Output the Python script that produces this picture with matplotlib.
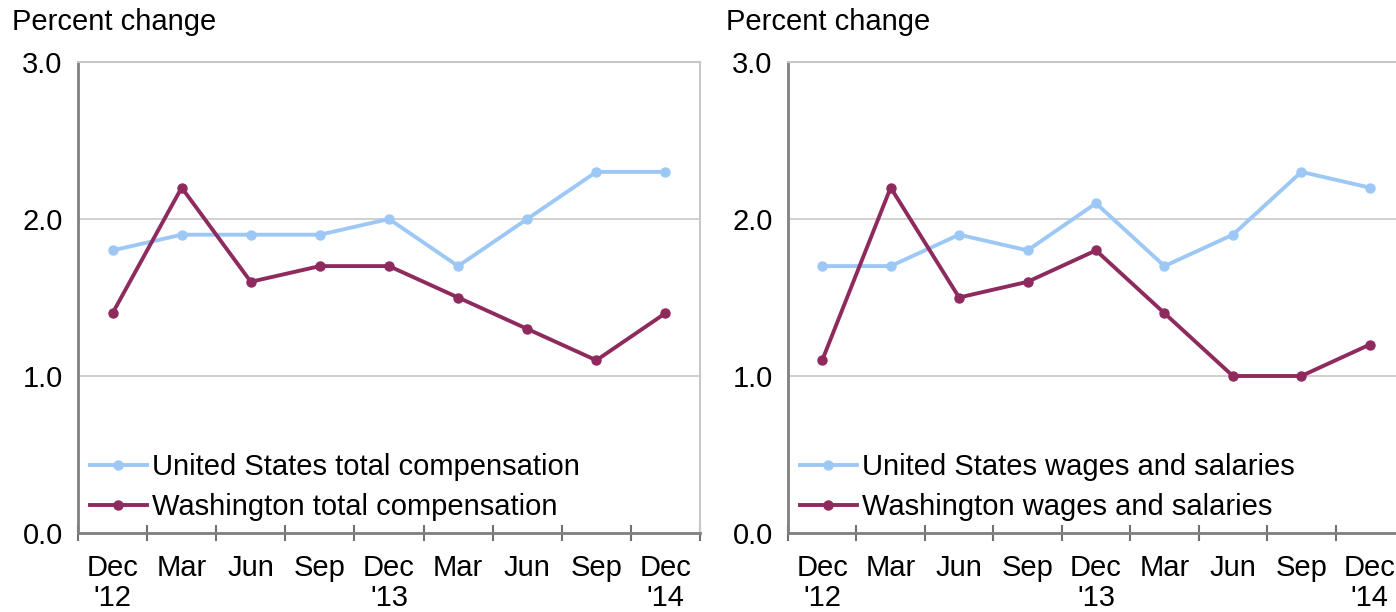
import matplotlib
matplotlib.use('Agg')
import matplotlib.pyplot as plt
import numpy as np

plt.rcParams['font.family'] = ['Liberation Sans', 'DejaVu Sans']

# Data
quarters = ["Dec\n'12", "Mar", "Jun", "Sep", "Dec\n'13", "Mar", "Jun", "Sep", "Dec\n'14"]
us_total = [1.8, 1.9, 1.9, 1.9, 2.0, 1.7, 2.0, 2.3, 2.3]
wa_total = [1.4, 2.2, 1.6, 1.7, 1.7, 1.5, 1.3, 1.1, 1.4]
us_wages = [1.7, 1.7, 1.9, 1.8, 2.1, 1.7, 1.9, 2.3, 2.2]
wa_wages = [1.1, 2.2, 1.5, 1.6, 1.8, 1.4, 1.0, 1.0, 1.2]

left_labels = ['United States total compensation', 'Washington total compensation']
right_labels = ['United States wages and salaries', 'Washington wages and salaries']

us_color = '#9DC8F5'
wa_color = '#8E2A5E'
fs = 21

fig = plt.figure(figsize=(13.96, 6.12), dpi=100)
W, H = 1396, 612

def make_panel(x0, x1, us, wa, labels, title_x):
    ax = fig.add_axes([x0 / W, 1 - 533 / H, (x1 - x0) / W, (533 - 62) / H])
    x = np.arange(len(quarters))
    ax.plot(x, us, color=us_color, lw=2.8, marker='o', ms=6.5, label=labels[0])
    ax.plot(x, wa, color=wa_color, lw=2.8, marker='o', ms=6.5, label=labels[1])
    ax.set_xlim(-0.5, len(quarters) - 0.5)
    ax.set_ylim(0, 3)
    ax.set_yticks([0, 1, 2, 3])
    ax.set_yticklabels(['0.0', '1.0', '2.0', '3.0'], fontsize=fs)
    ax.tick_params(axis='y', length=0, pad=11)
    ax.grid(axis='y', color='#C8C8C8', lw=1.2)
    ax.set_axisbelow(True)
    ax.set_xticks(x)
    ax.set_xticklabels(quarters, fontsize=fs, linespacing=1.1)
    ax.tick_params(axis='x', which='major', length=0, pad=15)
    ax.set_xticks(np.arange(-0.5, len(quarters)), minor=True)
    ax.tick_params(axis='x', which='minor', direction='inout', length=12, width=1.5, color='#707070')
    for s in ['left', 'bottom']:
        ax.spines[s].set_color('#808080')
        ax.spines[s].set_linewidth(2)
    for s in ['top', 'right']:
        ax.spines[s].set_color('#C8C8C8')
        ax.spines[s].set_linewidth(1.5)
    ax.legend(loc='lower left', bbox_to_anchor=(0.0, 0.0), frameon=False, fontsize=fs,
              handlelength=1.95, handletextpad=0.18, labelspacing=0.42, markerscale=1.0,
              borderaxespad=0.0)
    fig.text(title_x / W, 1 - 22 / H, 'Percent change', fontsize=fs, va='center', ha='left')
    return ax

make_panel(78, 700, us_total, wa_total, left_labels, 12)
make_panel(788, 1404, us_wages, wa_wages, right_labels, 726)

fig.savefig('out.png', dpi=100)
